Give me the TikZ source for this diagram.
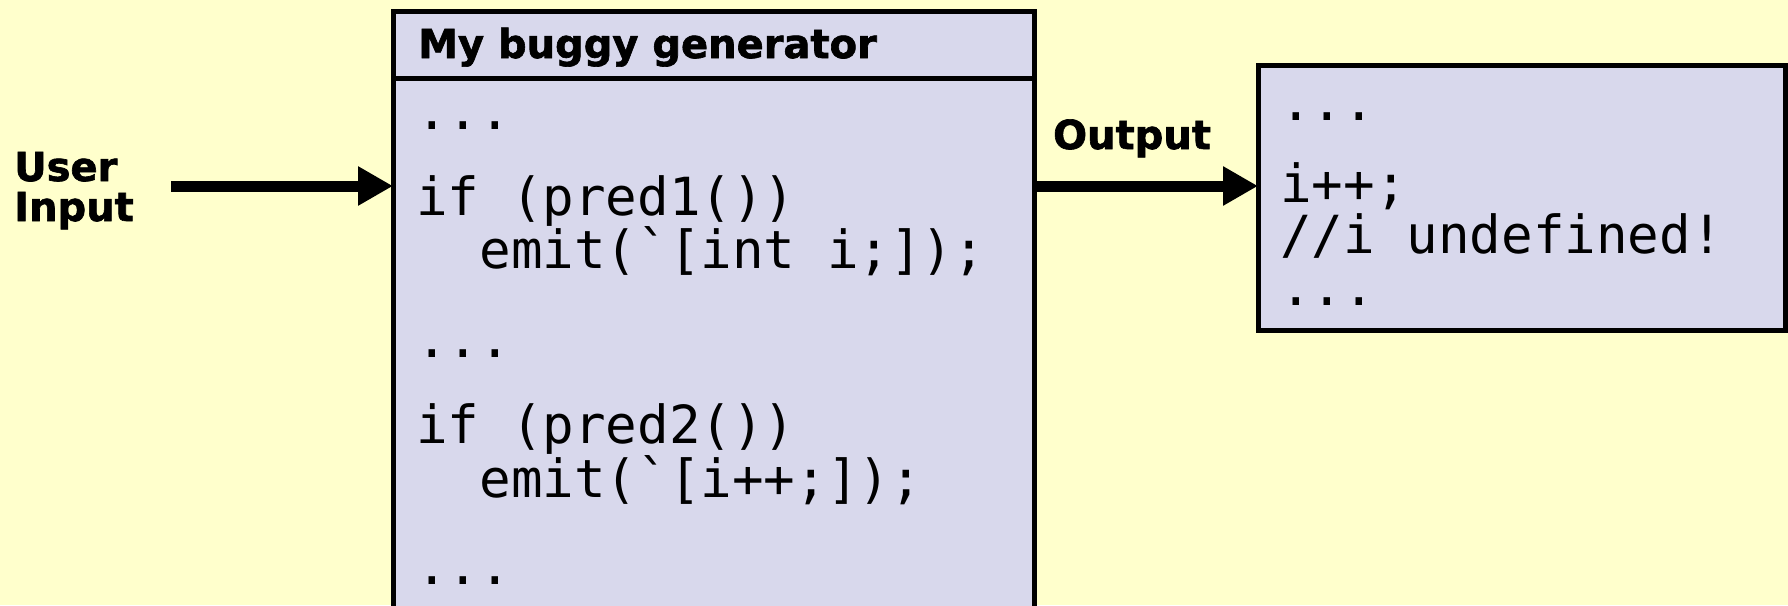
\documentclass[tikz,border=0pt]{standalone}
\usepackage{fontspec}
\setmainfont{DejaVu Sans}
\setmonofont{DejaVu Sans Mono}
\newfontfamily\heavyfont{DejaVu Sans}[BoldFeatures={FakeBold=1.6}]
\usetikzlibrary{arrows.meta}
\definecolor{bgyellow}{RGB}{255,255,204}
\definecolor{boxfill}{RGB}{216,216,236}
\tikzset{
  panel/.style={draw=black, line width=5pt, fill=boxfill, inner sep=0pt, outer sep=0pt},
  codeline/.style={anchor=base west, inner sep=0pt, font=\ttfamily\fontsize{52.5}{54}\selectfont},
  label/.style={inner sep=0pt, font=\heavyfont\bfseries\fontsize{40}{42}\selectfont},
  bigarrow/.style={line width=11pt, -{Triangle[length=35pt,width=37pt]}},
}
\begin{document}
\begin{tikzpicture}[x=1pt,y=-1pt]
\useasboundingbox (0,0) rectangle (1788,605);
\clip (0,0) rectangle (1788,605);
\fill[bgyellow] (0,0) rectangle (1788,605);
% generator box
\node[panel, minimum width=641pt, minimum height=614pt, anchor=north west] (gen) at (393,11) {};
\coordinate (sepl) at (393,78);
\coordinate (sepr) at (1034,78);
\draw[line width=5pt] (sepl) -- (sepr);
\node[label, anchor=base west] (title) at (418,58) {My buggy generator};
% code in generator
\node[codeline] (g1) at (416,129) {...};
\node[codeline] (g2) at (416,215) {if (pred1())};
\node[codeline] (g3) at (416,268) {\phantom{xx}emit(`[int i;]);};
\node[codeline] (g4) at (416,357) {...};
\node[codeline] (g5) at (416,443) {if (pred2())};
\node[codeline] (g6) at (416,497) {\phantom{xx}emit(`[i++;]);};
\node[codeline] (g7) at (416,584) {...};
% output box
\node[panel, minimum width=527pt, minimum height=265pt, anchor=north west] (out) at (1258,65) {};
\node[codeline] (o1) at (1280,120) {...};
\node[codeline] (o2) at (1280,202) {i++;};
\node[codeline] (o3) at (1280,253) {//i undefined!};
\node[codeline] (o4) at (1280,305) {...};
% labels
\node[label, anchor=base west] (user) at (14,181) {User};
\node[label, anchor=base west] (input) at (14,221) {Input};
\node[label, anchor=base] (outlbl) at (1132,149) {Output};
% arrows
\coordinate (uin) at (171,186);
\draw[bigarrow] (uin) -- (uin -| gen.west);
\draw[bigarrow] (uin -| gen.east) -- (uin -| out.west);
\end{tikzpicture}
\end{document}
